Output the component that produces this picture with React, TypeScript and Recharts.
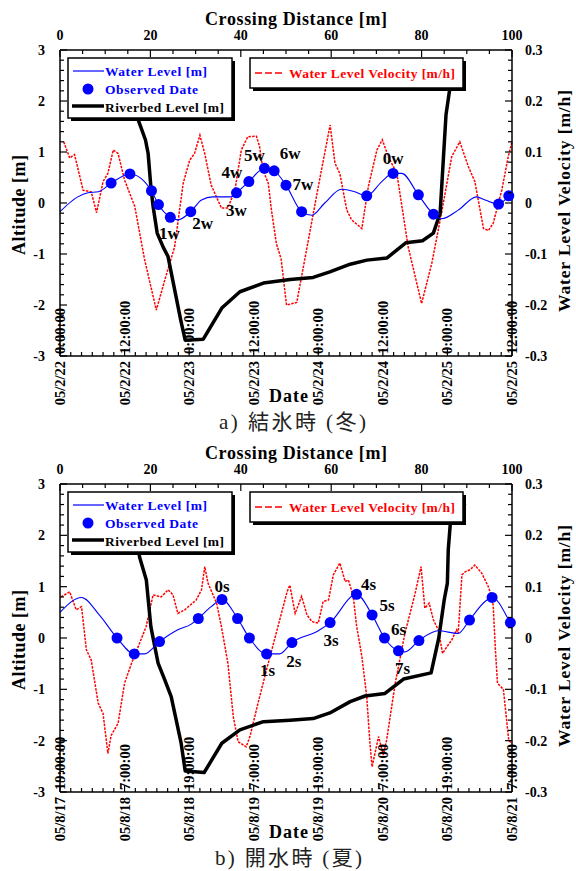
import React from "react";
import { ComposedChart, Line, XAxis, YAxis } from "recharts";

const SERIF = "'Liberation Serif', 'Times New Roman', Times, serif";
const CJK = "'Noto Sans CJK JP', 'Noto Sans CJK SC', sans-serif";
const BLUE = "#0000ff";
const RED = "#ff0000";

// ---- a) 結氷時 (冬): hours since 05/2/22 0:00 ----
const wlHoursA = [0, 3.3, 5.2, 7.1, 9.5, 13.0, 15.7, 17.0, 18.3, 20.5, 21.9, 24.3, 26.3, 28.4, 31.8, 32.8, 35.1, 38.0, 39.8, 42.0, 44.9, 46.8, 49.2, 52.3, 54.8, 57.0, 59.8, 61.9, 63.5, 66.6, 69.4, 70.9, 74.0, 77.4, 79.0, 81.5, 83.4, 84];
const wlLevelA = [-0.17, 0.12, 0.2, 0.22, 0.39, 0.57, 0.42, 0.24, -0.03, -0.28, -0.33, -0.17, 0.06, 0.12, 0.12, 0.2, 0.42, 0.68, 0.63, 0.35, -0.17, -0.24, 0, 0.27, 0.22, 0.14, 0.42, 0.58, 0.58, 0.16, -0.22, -0.31, -0.14, 0.12, 0.06, -0.02, 0.14, 0.2];

const obsHoursA = [9.5, 13.0, 17.0, 18.3, 20.5, 24.3, 32.8, 35.1, 38.0, 39.8, 42.0, 44.9, 57.0, 61.9, 66.6, 69.4, 81.5, 83.4];
const obsLevelA = [0.39, 0.57, 0.24, -0.03, -0.28, -0.17, 0.2, 0.42, 0.68, 0.63, 0.35, -0.17, 0.14, 0.58, 0.16, -0.22, -0.02, 0.14];
const obsNamesA = ["", "", "", "", "1w", "2w", "3w", "4w", "5w", "6w", "7w", "", "", "0w", "", "", "", ""];

const velHoursA = [0.7, 1.8, 2.7, 4.3, 5.8, 6.8, 8.0, 8.9, 9.9, 10.8, 12.0, 13.9, 15.7, 17.9, 19.5, 21.3, 22.9, 24.1, 25.0, 26.0, 26.9, 28.1, 30.0, 31.2, 32.5, 33.7, 34.9, 36.5, 37.1, 37.7, 38.7, 39.3, 40.2, 41.1, 42.1, 44.0, 48.0, 50.2, 51.1, 52.0, 53.3, 54.2, 56.1, 57.3, 58.9, 59.9, 61.0, 62.6, 64.7, 67.2, 69.1, 70.9, 72.8, 74.3, 75.9, 77.1, 78.7, 79.6, 80.5, 82.1, 83.3, 84];
const velA = [0.12, 0.088, 0.095, 0.025, 0.022, -0.019, 0.042, 0.058, 0.104, 0.097, 0.045, -0.007, -0.11, -0.21, -0.15, -0.086, 0.039, 0.084, 0.097, 0.133, 0.097, 0.035, -0.01, -0.01, 0.025, 0.104, 0.13, 0.131, 0.11, 0.065, 0.039, -0.014, -0.079, -0.11, -0.2, -0.195, 0.032, 0.153, 0.078, 0.058, -0.014, -0.033, -0.05, 0.032, 0.104, 0.124, 0.091, 0.058, -0.086, -0.197, -0.118, -0.02, 0.091, 0.12, 0.071, 0.042, -0.05, -0.054, -0.04, 0.025, 0.091, 0.12];

const bedDistA = [16.2, 17.3, 18.9, 19.5, 20.1, 20.6, 21.5, 22.8, 23.9, 26.7, 27.7, 31.7, 35.8, 39.8, 45.0, 50.9, 56.0, 59.7, 64.2, 67.9, 72.3, 76.5, 80.2, 82.6, 84.1, 84.8, 85.4, 86.3, 86.7, 89.8];
const bedLevelA = [2.5, 1.63, 1.24, 0.97, 0.32, -0.07, -0.59, -0.86, -1.05, -2.29, -2.69, -2.67, -2.06, -1.74, -1.57, -1.5, -1.46, -1.35, -1.2, -1.12, -1.08, -0.78, -0.74, -0.59, -0.2, 0.84, 1.73, 2.28, 2.7, 2.65];

const dateTicksA = ["05/2/22 0:00:00", "05/2/22 12:00:00", "05/2/23 0:00:00", "05/2/23 12:00:00", "05/2/24 0:00:00", "05/2/24 12:00:00", "05/2/25 0:00:00", "05/2/25 12:00:00"];

// ---- b) 開水時 (夏): hours since 05/8/17 19:00 ----
const wlHoursB = [0, 4.0, 7.3, 10.6, 13.8, 15.7, 18.5, 21.9, 24.4, 25.7, 28.1, 30.1, 33.0, 35.2, 38.4, 40.8, 43.1, 48.0, 50.2, 55.1, 58.0, 60.3, 62.9, 64.1, 66.7, 70.3, 74.0, 76.1, 79.0, 80.3, 83.7, 84];
const wlLevelB = [0.5, 0.79, 0.45, 0, -0.31, -0.31, -0.07, 0.16, 0.27, 0.38, 0.61, 0.75, 0.38, 0, -0.31, -0.31, -0.09, 0.14, 0.3, 0.85, 0.45, 0, -0.25, -0.27, -0.05, 0.14, 0.09, 0.35, 0.71, 0.79, 0.3, 0.25];

const obsHoursB = [10.6, 13.8, 18.5, 25.7, 30.1, 33.0, 35.2, 38.4, 43.1, 50.2, 55.1, 58.0, 60.3, 62.9, 66.7, 76.1, 80.3, 83.7];
const obsLevelB = [0, -0.31, -0.07, 0.38, 0.75, 0.38, 0, -0.31, -0.09, 0.3, 0.85, 0.45, 0, -0.25, -0.05, 0.35, 0.79, 0.3];
const obsNamesB = ["", "", "", "", "0s", "", "", "1s", "2s", "3s", "4s", "5s", "6s", "7s", "", "", "", ""];

const velHoursB = [0.2, 1.8, 3.0, 4.0, 4.9, 5.8, 7.1, 8.0, 8.9, 9.5, 10.8, 12.0, 13.3, 14.8, 16.0, 17.3, 18.8, 20.1, 21.0, 21.9, 23.2, 25.3, 26.3, 26.9, 27.5, 29.1, 30.0, 31.2, 32.2, 33.1, 34.6, 35.3, 36.8, 38.7, 40.5, 42.2, 42.7, 43.7, 44.9, 45.9, 46.8, 48.0, 48.9, 49.9, 50.8, 52.0, 53.0, 53.6, 54.5, 55.1, 56.1, 57.0, 57.6, 58.0, 59.2, 60.1, 60.7, 62.3, 64.1, 66.0, 67.1, 67.8, 68.6, 69.4, 70.3, 71.1, 71.9, 72.8, 73.7, 74.0, 74.7, 75.3, 76.2, 77.1, 78.4, 79.6, 80.2, 80.5, 80.9, 81.3, 82.4, 82.9, 83.4, 84];
const velB = [0.08, 0.09, 0.055, 0.061, -0.023, -0.043, -0.127, -0.147, -0.225, -0.19, -0.166, -0.088, -0.049, -0.01, 0.022, 0.084, 0.08, 0.094, 0.084, 0.048, 0.055, 0.074, 0.094, 0.139, 0.107, 0.068, 0.022, -0.049, -0.153, -0.202, -0.212, -0.192, -0.127, -0.049, 0.022, 0.09, 0.103, 0.048, 0.081, 0.045, 0.032, 0.029, 0.071, 0.074, 0.123, 0.146, 0.11, 0.113, 0.081, 0.025, -0.036, -0.114, -0.205, -0.251, -0.192, -0.228, -0.199, -0.088, 0.009, 0.087, 0.139, 0.058, 0.068, 0.035, 0.016, -0.03, -0.017, -0.004, 0.016, 0.009, 0.123, 0.129, 0.133, 0.142, 0.126, 0.1, 0.081, 0.064, -0.02, -0.088, -0.1, -0.15, -0.2, -0.205];

const bedDistB = [16.2, 17.6, 19.1, 20.1, 21.7, 23.2, 24.6, 26.8, 27.7, 31.9, 35.8, 39.8, 45.0, 50.9, 56.0, 59.7, 64.2, 67.5, 71.9, 76.0, 82.1, 83.8, 85.0, 85.7, 85.9, 86.3, 86.7, 89.8];
const bedLevelB = [2.6, 1.58, 1.13, 0.22, -0.49, -0.82, -1.14, -2.05, -2.59, -2.62, -2.05, -1.79, -1.63, -1.6, -1.57, -1.46, -1.24, -1.13, -1.08, -0.8, -0.68, 0, 0.74, 1.07, 1.72, 2.17, 2.56, 2.63];

const dateTicksB = ["05/8/17 19:00:00", "05/8/18 7:00:00", "05/8/18 19:00:00", "05/8/19 7:00:00", "05/8/19 19:00:00", "05/8/20 7:00:00", "05/8/20 19:00:00", "05/8/21 7:00:00"];

// shared axis labels
const distLabels = ["0", "20", "40", "60", "80", "100"];
const altLabels = ["-3", "-2", "-1", "0", "1", "2", "3"];
const velLabels = ["-0.3", "-0.2", "-0.1", "0", "0.1", "0.2", "0.3"];

// where each annotation sits relative to its dot (text centre)
const LABEL_OFFSET: Record<string, [number, number]> = {
  "1w": [-1, 16], "2w": [12, 12], "3w": [0, 18], "4w": [-17, -9],
  "5w": [-10, -13], "6w": [16, -17], "7w": [17, -1], "0w": [0, -15],
  "0s": [0, -13], "1s": [1, 17], "2s": [2, 19], "3s": [1, 18],
  "4s": [12, -10], "5s": [15, -9], "6s": [14, -9], "7s": [4, 18],
};

const hourTicks = Array.from({ length: 43 }, (_, i) => i * 2);
const distTicks = Array.from({ length: 21 }, (_, i) => i * 5);
const altTicks = Array.from({ length: 31 }, (_, i) => Math.round((-3 + i * 0.2) * 10) / 10);
const velTicks = Array.from({ length: 31 }, (_, i) => Math.round((-0.3 + i * 0.02) * 100) / 100);

const bold = (size: number, fill = "#000") => ({
  fontFamily: SERIF,
  fontWeight: 700,
  fontSize: size,
  fill,
});

const MAJ = 7;
const MIN = 4;

const timeTick = (labels: string[]) => (p: any) => {
  const v = p.payload.value;
  const major = v % 12 === 0;
  const lab = major ? labels[v / 12] : "";
  const [date, time] = lab ? lab.split(" ") : ["", ""];
  return (
    <g>
      <line x1={p.x} y1={p.y} x2={p.x} y2={p.y - (major ? MAJ : MIN)} stroke="#000" strokeWidth={1.2} />
      {lab && (
        <>
          <text transform={`translate(${p.x + 5},${p.y - 2}) rotate(-90)`} textAnchor="start" style={bold(14.5)}>
            {time}
          </text>
          <text transform={`translate(${p.x + 5},${p.y + 5}) rotate(-90)`} textAnchor="end" style={bold(14.5)}>
            {date}
          </text>
        </>
      )}
    </g>
  );
};

const distTick = (p: any) => {
  const v = p.payload.value;
  const major = v % 20 === 0;
  return (
    <g>
      <line x1={p.x} y1={p.y} x2={p.x} y2={p.y + (major ? MAJ : MIN)} stroke="#000" strokeWidth={1.2} />
      {major && (
        <text x={p.x} y={p.y - 10} textAnchor="middle" style={bold(14)}>
          {distLabels[v / 20]}
        </text>
      )}
    </g>
  );
};

const altTick = (p: any) => {
  const i = Math.round((p.payload.value + 3) / 0.2);
  const major = i % 5 === 0;
  return (
    <g>
      <line x1={p.x} y1={p.y} x2={p.x + (major ? MAJ : MIN)} y2={p.y} stroke="#000" strokeWidth={1.2} />
      {major && (
        <text x={p.x - 15} y={p.y + 5} textAnchor="end" style={bold(14)}>
          {altLabels[i / 5]}
        </text>
      )}
    </g>
  );
};

const velTick = (p: any) => {
  const i = Math.round((p.payload.value + 0.3) / 0.02);
  const major = i % 5 === 0;
  return (
    <g>
      <line x1={p.x} y1={p.y} x2={p.x - (major ? MAJ : MIN)} y2={p.y} stroke="#000" strokeWidth={1.2} />
      {major && (
        <text x={p.x + 13} y={p.y + 5} textAnchor="start" style={bold(14)}>
          {velLabels[i / 5]}
        </text>
      )}
    </g>
  );
};

const obsDot = (p: any) => {
  const { cx, cy, payload, index } = p;
  const off = payload.name ? LABEL_OFFSET[payload.name] : null;
  return (
    <g key={`obs-${index}`}>
      <circle cx={cx} cy={cy} r={5.5} fill={BLUE} />
      {off && (
        <text x={cx + off[0]} y={cy + off[1]} textAnchor="middle" dominantBaseline="central" style={bold(17)}>
          {payload.name}
        </text>
      )}
    </g>
  );
};

type PanelProps = {
  top: number;
  height: number;
  bottomH: number;
  wlHours: number[];
  wlLevel: number[];
  obsHours: number[];
  obsLevel: number[];
  obsNames: string[];
  velHours: number[];
  vel: number[];
  bedDist: number[];
  bedLevel: number[];
  dates: string[];
  caption: string;
  captionX: number;
  captionW: number;
};

const W = 576;
const TOP_H = 50;
const LEFT_W = 60;
const RIGHT_W = 64;

function Panel(props: PanelProps) {
  const wl = props.wlHours.map((t, i) => ({ t, y: props.wlLevel[i] }));
  const obs = props.obsHours.map((t, i) => ({ t, y: props.obsLevel[i], name: props.obsNames[i] }));
  const vel = props.velHours.map((t, i) => ({ t, v: props.vel[i] }));
  const bed = props.bedDist.map((d, i) => ({ d, z: props.bedLevel[i] }));

  const plotTop = TOP_H;
  const plotBottom = props.height - props.bottomH;
  const midY = (plotTop + plotBottom) / 2;
  const ly = plotTop + 8;

  return (
    <div style={{ position: "absolute", left: 0, top: props.top, width: W, height: props.height }}>
      <ComposedChart width={W} height={props.height} margin={{ top: 0, right: 0, bottom: 0, left: 0 }}>
        <XAxis
          xAxisId="t"
          dataKey="t"
          type="number"
          domain={[0, 84]}
          ticks={hourTicks}
          interval={0}
          height={props.bottomH}
          tickSize={0}
          tickMargin={0}
          tickLine={false}
          axisLine={{ stroke: "#000", strokeWidth: 1.5 }}
          tick={timeTick(props.dates)}
        />
        <XAxis
          xAxisId="d"
          dataKey="d"
          type="number"
          orientation="top"
          domain={[0, 100]}
          ticks={distTicks}
          interval={0}
          height={TOP_H}
          tickSize={0}
          tickMargin={0}
          tickLine={false}
          axisLine={{ stroke: "#000", strokeWidth: 1.5 }}
          tick={distTick}
        />
        <YAxis
          yAxisId="alt"
          type="number"
          domain={[-3, 3]}
          ticks={altTicks}
          interval={0}
          width={LEFT_W}
          tickSize={0}
          tickMargin={0}
          tickLine={false}
          axisLine={{ stroke: "#000", strokeWidth: 1.5 }}
          tick={altTick}
        />
        <YAxis
          yAxisId="vel"
          orientation="right"
          type="number"
          domain={[-0.3, 0.3]}
          ticks={velTicks}
          interval={0}
          width={RIGHT_W}
          tickSize={0}
          tickMargin={0}
          tickLine={false}
          axisLine={{ stroke: "#000", strokeWidth: 1.5 }}
          tick={velTick}
        />
        <Line
          data={vel}
          xAxisId="t"
          yAxisId="vel"
          dataKey="v"
          type="linear"
          stroke={RED}
          strokeWidth={1.5}
          strokeDasharray="2.5 1.2"
          dot={false}
          activeDot={false}
          isAnimationActive={false}
        />
        <Line
          data={bed}
          xAxisId="d"
          yAxisId="alt"
          dataKey="z"
          type="linear"
          stroke="#000"
          strokeWidth={3.5}
          strokeLinejoin="round"
          dot={false}
          activeDot={false}
          isAnimationActive={false}
        />
        <Line
          data={wl}
          xAxisId="t"
          yAxisId="alt"
          dataKey="y"
          type="monotone"
          stroke={BLUE}
          strokeWidth={1.1}
          dot={false}
          activeDot={false}
          isAnimationActive={false}
        />
        <Line
          data={obs}
          xAxisId="t"
          yAxisId="alt"
          dataKey="y"
          stroke="none"
          dot={obsDot}
          activeDot={false}
          isAnimationActive={false}
        />
      </ComposedChart>

      <svg width={W} height={props.height} style={{ position: "absolute", left: 0, top: 0, pointerEvents: "none" }}>
        {/* left legend */}
        <rect x={71} y={ly + 3} width={164} height={60} fill="#000" />
        <rect x={68} y={ly} width={164} height={60} fill="#fff" stroke="#000" strokeWidth={1.5} />
        <line x1={73} x2={104} y1={ly + 13} y2={ly + 13} stroke={BLUE} strokeWidth={1.2} />
        <text x={105} y={ly + 18} textLength={102} lengthAdjust="spacing" style={bold(13.5, BLUE)}>
          Water Level [m]
        </text>
        <circle cx={88} cy={ly + 31} r={5.5} fill={BLUE} />
        <text x={105} y={ly + 36} textLength={93} lengthAdjust="spacing" style={bold(13.5, BLUE)}>
          Observed Date
        </text>
        <line x1={72} x2={104} y1={ly + 48} y2={ly + 48} stroke="#000" strokeWidth={3.5} />
        <text x={105} y={ly + 54} textLength={119} lengthAdjust="spacing" style={bold(13.5)}>
          Riverbed Level [m]
        </text>

        {/* right legend */}
        <rect x={253} y={ly + 3} width={213} height={30} fill="#000" />
        <rect x={250} y={ly} width={213} height={30} fill="#fff" stroke="#000" strokeWidth={1.5} />
        <line x1={255} x2={284} y1={ly + 15} y2={ly + 15} stroke={RED} strokeWidth={1.5} strokeDasharray="7 3" />
        <text x={289} y={ly + 20} textLength={166} lengthAdjust="spacing" style={bold(13.5, RED)}>
          Water Level Velocity [m/h]
        </text>

        {/* axis titles */}
        <text x={205} y={plotTop - 25} textLength={182} lengthAdjust="spacing" style={bold(18)}>
          Crossing Distance [m]
        </text>
        <text x={269} y={plotBottom + 46} textLength={39} lengthAdjust="spacing" style={bold(18)}>
          Date
        </text>
        <text
          transform={`translate(25,${midY + 2}) rotate(-90)`}
          textAnchor="middle"
          textLength={100}
          lengthAdjust="spacing"
          style={bold(18)}
        >
          Altitude [m]
        </text>
        <text
          transform={`translate(570,${midY - 2}) rotate(-90)`}
          textAnchor="middle"
          textLength={222}
          lengthAdjust="spacing"
          style={bold(17.5)}
        >
          Water Level Velocity [m/h]
        </text>

        {/* caption */}
        <text
          x={props.captionX}
          y={plotBottom + 73}
          textLength={props.captionW}
          lengthAdjust="spacing"
          style={{ fontFamily: `${SERIF}, ${CJK}`, fontSize: 21, fill: "#222" }}
        >
          {props.caption}
        </text>
      </svg>
    </div>
  );
}

export default function App() {
  return (
    <div style={{ position: "absolute", left: 0, top: 0, width: W, height: 871, background: "#fff" }}>
      <Panel
        top={0}
        height={436}
        bottomH={80}
        wlHours={wlHoursA}
        wlLevel={wlLevelA}
        obsHours={obsHoursA}
        obsLevel={obsLevelA}
        obsNames={obsNamesA}
        velHours={velHoursA}
        vel={velA}
        bedDist={bedDistA}
        bedLevel={bedLevelA}
        dates={dateTicksA}
        caption="a) 結氷時 (冬)"
        captionX={219}
        captionW={147}
      />
      <Panel
        top={434}
        height={437}
        bottomH={79}
        wlHours={wlHoursB}
        wlLevel={wlLevelB}
        obsHours={obsHoursB}
        obsLevel={obsLevelB}
        obsNames={obsNamesB}
        velHours={velHoursB}
        vel={velB}
        bedDist={bedDistB}
        bedLevel={bedLevelB}
        dates={dateTicksB}
        caption="b) 開水時 (夏)"
        captionX={215}
        captionW={147}
      />
    </div>
  );
}
